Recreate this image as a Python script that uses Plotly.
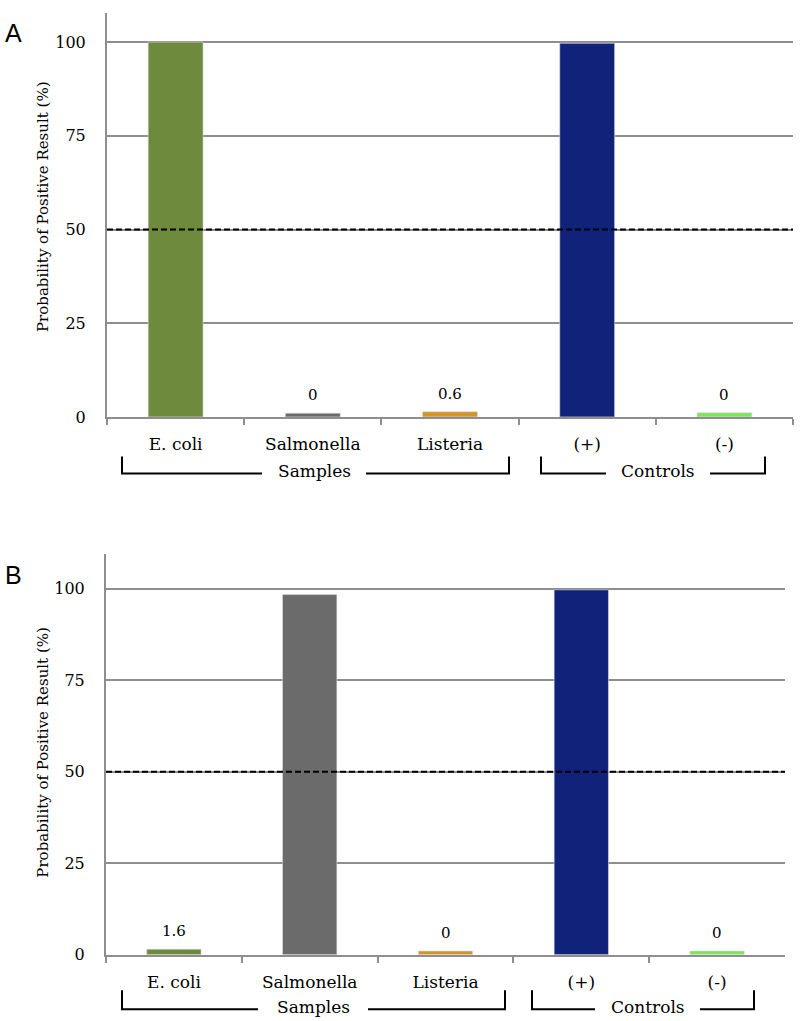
import plotly.graph_objects as go

# categories and colours shared by both panels
categories = ["E. coli", "Salmonella", "Listeria", "(+)", "(-)"]
bar_colors = ["#6E8B3D", "#6B6B6B", "#D4942C", "#10227A", "#7FE35C"]

# panel A: drawn bar heights and printed value labels
a_heights = [100, 1.0, 1.4, 99.7, 1.1]
a_labels = ["", "0", "0.6", "", "0"]

# panel B
b_heights = [1.5, 98.4, 1.0, 99.7, 1.0]
b_labels = ["1.6", "", "0", "", "0"]

threshold = 50
y_ticks = [0, 25, 50, 75, 100]

# the page gets squeezed a little vertically when photographed, so lay out on 1034px
W, H = 800, 1034
SERIF = "DejaVu Serif"
GRID = "#8E8E8E"


def px(x):
    return x / W


def py(y):
    return 1 - y / H


fig = go.Figure()

fig.add_trace(go.Bar(x=categories, y=a_heights, marker_color=bar_colors, width=0.4,
                     marker_line=dict(color="rgba(220,220,220,0.6)", width=1),
                     xaxis="x", yaxis="y", showlegend=False, hoverinfo="skip"))
fig.add_trace(go.Bar(x=categories, y=b_heights, marker_color=bar_colors, width=0.4,
                     marker_line=dict(color="rgba(220,220,220,0.6)", width=1),
                     xaxis="x2", yaxis="y2", showlegend=False, hoverinfo="skip"))

xax = dict(type="category", showline=True, linecolor=GRID, linewidth=2,
           ticks="outside", tickson="boundaries", ticklen=6, tickwidth=2, tickcolor=GRID,
           tickfont=dict(family=SERIF, size=17, color="black"), ticklabelstandoff=11,
           showgrid=False, zeroline=False, fixedrange=True)
yax = dict(tickvals=y_ticks, showline=True, linecolor=GRID, linewidth=2,
           showgrid=True, gridcolor=GRID, gridwidth=2, zeroline=False, ticks="",
           tickfont=dict(family=SERIF, size=16, color="black"), ticklabelstandoff=16,
           fixedrange=True)

fig.update_layout(
    width=W, height=H, margin=dict(l=0, r=0, t=0, b=0),
    paper_bgcolor="white", plot_bgcolor="white", bargap=0.6,
    xaxis=dict(xax, domain=[px(107), px(793)], anchor="y"),
    yaxis=dict(yax, domain=[py(421), py(13)], range=[0, 107.8], anchor="x"),
    xaxis2=dict(xax, domain=[px(106), px(785)], anchor="y2"),
    yaxis2=dict(yax, domain=[py(964), py(559)], range=[0, 109.6], anchor="x2"),
)

shapes = []
annotations = []

# dashed 50% threshold lines
for xr, yr in [("x", "y"), ("x2", "y2")]:
    shapes.append(dict(type="line", xref=xr + " domain", yref=yr, x0=0, x1=1,
                       y0=threshold, y1=threshold,
                       line=dict(color="black", width=2, dash="6px,3px")))

# value labels above the small bars
for xr, yr, heights, labels in [("x", "y", a_heights, a_labels), ("x2", "y2", b_heights, b_labels)]:
    for cat, h, lab in zip(categories, heights, labels):
        if lab:
            annotations.append(dict(x=cat, y=h, xref=xr, yref=yr, text=lab, showarrow=False,
                                    yanchor="middle", yshift=18,
                                    font=dict(family=SERIF, size=15, color="black")))

# y axis titles and panel letters
for letter, ly, ty in [("A", 33, 209), ("B", 581, 760)]:
    annotations.append(dict(x=px(13), y=py(ly), xref="paper", yref="paper", text=letter,
                            showarrow=False, xanchor="center", yanchor="middle",
                            font=dict(family="Liberation Sans", size=25, color="black")))
    annotations.append(dict(x=px(43), y=py(ty), xref="paper", yref="paper",
                            text="Probability of Positive Result (%)", textangle=-90,
                            showarrow=False, xanchor="center", yanchor="middle",
                            font=dict(family=SERIF, size=15, color="black")))


# group brackets: (left x, gap start, gap end, right x, top y, bottom y, label)
brackets = [
    (122, 262, 366, 509, 461, 478, "Samples"),
    (541, 606, 710, 765, 461, 478, "Controls"),
    (122, 258, 368, 505, 1000, 1019, "Samples"),
    (532, 595, 700, 754, 1000, 1019, "Controls"),
]
for x0, g0, g1, x1, ytop, ybot, lab in brackets:
    path = (f"M {px(x0)},{py(ytop)} L {px(x0)},{py(ybot)} L {px(g0)},{py(ybot)} "
            f"M {px(g1)},{py(ybot)} L {px(x1)},{py(ybot)} L {px(x1)},{py(ytop)}")
    shapes.append(dict(type="path", xref="paper", yref="paper", path=path,
                       line=dict(color="black", width=2)))
    annotations.append(dict(x=px((g0 + g1) / 2), y=py(ybot - 2), xref="paper", yref="paper",
                            text=lab, showarrow=False, xanchor="center", yanchor="middle",
                            font=dict(family=SERIF, size=17, color="black")))

fig.update_layout(shapes=shapes, annotations=annotations)

# page body has a default 8px margin; drop it so the figure starts at the corner
page_fix = ("document.body.style.margin='0';"
            "document.body.style.overflow='hidden';")
fig.write_html("out.html", config={"displayModeBar": False}, post_script=page_fix)
